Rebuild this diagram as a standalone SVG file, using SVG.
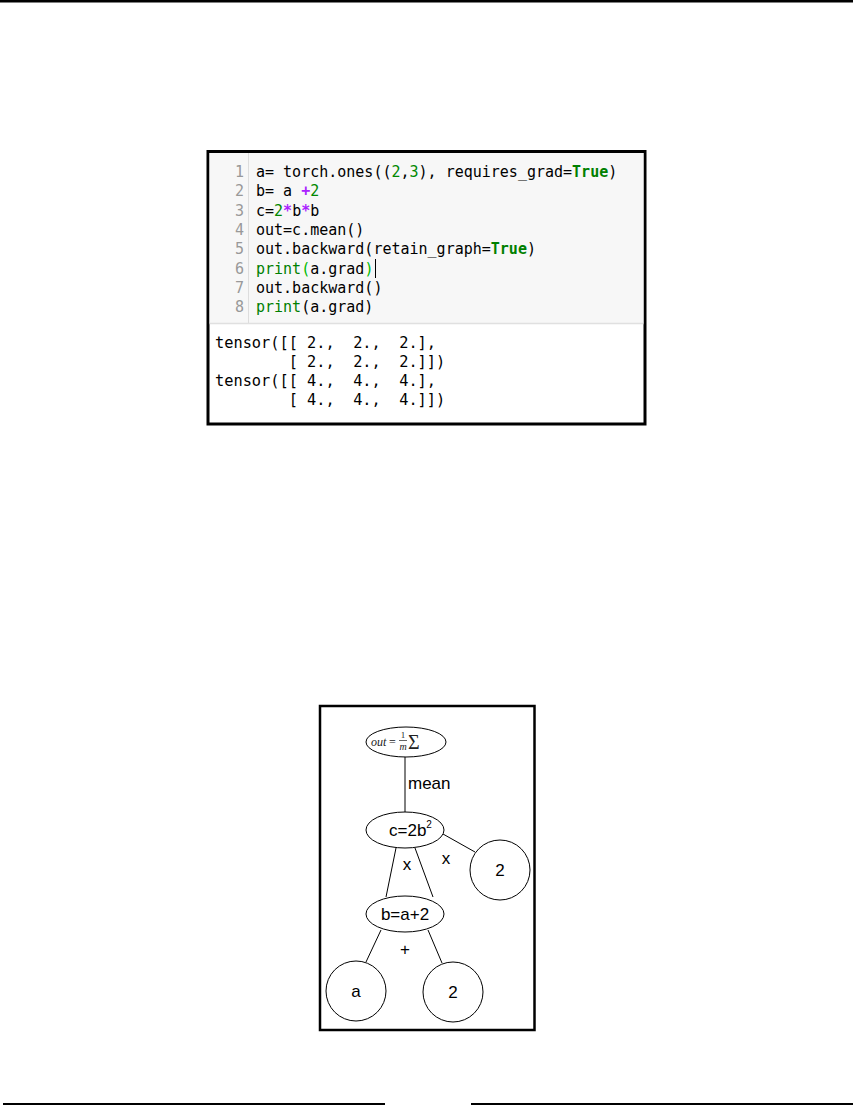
<svg xmlns="http://www.w3.org/2000/svg" width="854" height="1105" viewBox="0 0 854 1105">
<style>
.code{font-family:"DejaVu Sans Mono","Liberation Mono",monospace;font-size:15px;fill:#000}
.ln{font-family:"DejaVu Sans Mono","Liberation Mono",monospace;font-size:15px;fill:#999;text-anchor:end}
.kw{fill:#008000;font-weight:bold}
.num{fill:#008800}
.op{fill:#AA22FF;font-weight:bold}
.bi{fill:#008000}
.mb{fill:#00bb00}
.lbl{font-family:"Liberation Sans",Arial,sans-serif;font-size:17px;fill:#000}
.node{fill:#fff;stroke:#000;stroke-width:1}
.edge{stroke:#000;stroke-width:1;fill:none}
.tex{font-family:"Liberation Serif","DejaVu Serif",serif;fill:#222}
</style>
<rect x="0" y="0" width="853" height="2.5" fill="#000"/>
<rect x="3" y="1103" width="382" height="2" fill="#000"/>
<rect x="471" y="1103" width="382" height="2" fill="#000"/>

<g id="code-cell">
<rect x="208" y="151.5" width="437" height="272.5" fill="#fff" stroke="#000" stroke-width="3"/>
<rect x="209.5" y="153" width="434" height="170" fill="#f7f7f7"/>
<line x1="209.5" y1="323.5" x2="643.5" y2="323.5" stroke="#e0e0e0" stroke-width="1.5"/>
<line x1="248.5" y1="153" x2="248.5" y2="323" stroke="#dddddd" stroke-width="1"/>
<text class="ln" x="244" y="177">1</text>
<text class="ln" x="244" y="196.3">2</text>
<text class="ln" x="244" y="215.6">3</text>
<text class="ln" x="244" y="234.9">4</text>
<text class="ln" x="244" y="254.2">5</text>
<text class="ln" x="244" y="273.5">6</text>
<text class="ln" x="244" y="292.8">7</text>
<text class="ln" x="244" y="312.1">8</text>
<text class="code" x="256" y="177" xml:space="preserve">a= torch.ones((<tspan class="num">2</tspan>,<tspan class="num">3</tspan>), requires_grad=<tspan class="kw">True</tspan>)</text>
<text class="code" x="256" y="196.3" xml:space="preserve">b= a <tspan class="op">+</tspan><tspan class="num">2</tspan></text>
<text class="code" x="256" y="215.6" xml:space="preserve">c=<tspan class="num">2</tspan><tspan class="op">*</tspan>b<tspan class="op">*</tspan>b</text>
<text class="code" x="256" y="234.9" xml:space="preserve">out=c.mean()</text>
<text class="code" x="256" y="254.2" xml:space="preserve">out.backward(retain_graph=<tspan class="kw">True</tspan>)</text>
<text class="code" x="256" y="273.5" xml:space="preserve"><tspan class="bi">print</tspan><tspan class="mb">(</tspan>a.grad<tspan class="mb">)</tspan></text>
<line x1="375.5" y1="259" x2="375.5" y2="278" stroke="#000" stroke-width="1"/>
<text class="code" x="256" y="292.8" xml:space="preserve">out.backward()</text>
<text class="code" x="256" y="312.1" xml:space="preserve"><tspan class="bi">print</tspan>(a.grad)</text>
<text class="code" x="215" y="348" xml:space="preserve" style="font-size:15.3px">tensor([[ 2.,  2.,  2.],</text>
<text class="code" x="215" y="367" xml:space="preserve" style="font-size:15.3px">        [ 2.,  2.,  2.]])</text>
<text class="code" x="215" y="386" xml:space="preserve" style="font-size:15.3px">tensor([[ 4.,  4.,  4.],</text>
<text class="code" x="215" y="405" xml:space="preserve" style="font-size:15.3px">        [ 4.,  4.,  4.]])</text>
</g>

<rect x="320" y="706" width="214.5" height="324" fill="#fff" stroke="#000" stroke-width="2.5"/>

<g id="connectors">
<line class="edge" x1="405" y1="756" x2="405" y2="812"/>
<line class="edge" x1="396" y1="848" x2="386" y2="897"/>
<line class="edge" x1="415" y1="848" x2="433" y2="897"/>
<line class="edge" x1="443" y1="834" x2="475" y2="852"/>
<line class="edge" x1="381" y1="930" x2="366" y2="962"/>
<line class="edge" x1="428" y1="930" x2="442" y2="963"/>
<text class="lbl" x="408" y="789">mean</text>
<text class="lbl" x="407" y="870" text-anchor="middle" font-size="19">x</text>
<text class="lbl" x="446" y="864" text-anchor="middle" font-size="19">x</text>
<text class="lbl" x="405" y="955" text-anchor="middle">+</text>
</g>

<g id="node-out">
<ellipse class="node" cx="406" cy="742" rx="40" ry="15"/>
<text class="tex" x="371" y="746" font-size="12" font-style="italic">out</text>
<text class="tex" x="389" y="746" font-size="12">=</text>
<text class="tex" x="403" y="738" font-size="9" text-anchor="middle">1</text>
<line x1="399" y1="740.5" x2="407" y2="740.5" stroke="#222" stroke-width="0.7"/>
<text class="tex" x="403" y="750" font-size="10" font-style="italic" text-anchor="middle">m</text>
<text class="tex" x="408" y="749" font-size="20">Σ</text>
</g>

<g id="node-c">
<ellipse class="node" cx="405" cy="830" rx="39" ry="18"/>
<text class="lbl" x="389" y="836">c=2b<tspan font-size="10" dy="-8">2</tspan></text>
</g>

<g id="node-two-top">
<circle class="node" cx="500" cy="870" r="30"/>
<text class="lbl" x="500" y="876" text-anchor="middle">2</text>
</g>

<g id="node-b">
<ellipse class="node" cx="405" cy="914" rx="39" ry="18"/>
<text class="lbl" x="405" y="920" text-anchor="middle">b=a+2</text>
</g>

<g id="node-a">
<circle class="node" cx="356" cy="991" r="30"/>
<text class="lbl" x="356" y="997" text-anchor="middle">a</text>
</g>

<g id="node-two-bottom">
<circle class="node" cx="453" cy="992" r="30"/>
<text class="lbl" x="453" y="998" text-anchor="middle">2</text>
</g>
</svg>
